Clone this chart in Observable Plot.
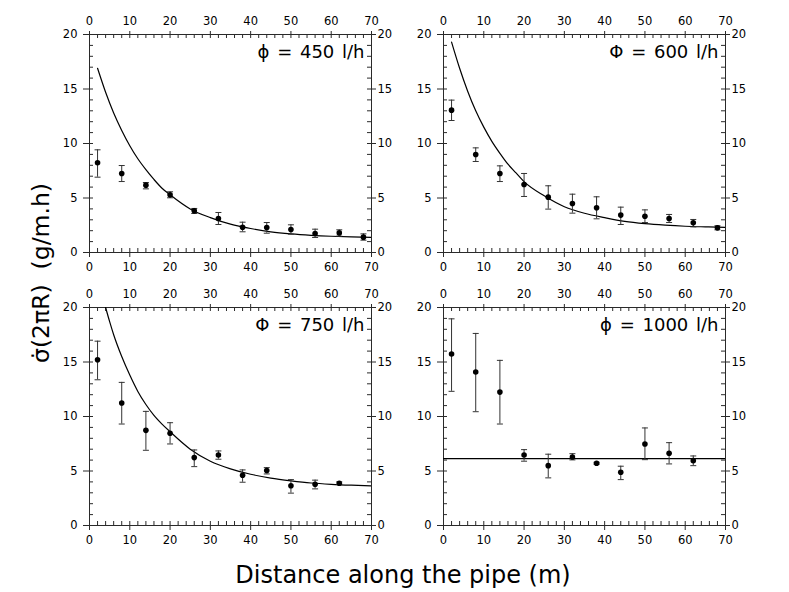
<!DOCTYPE html>
<html><head><meta charset="utf-8">
<script src="https://cdn.jsdelivr.net/npm/d3@7"></script>
<script src="https://cdn.jsdelivr.net/npm/@observablehq/plot@0.6"></script>
<style>
body{margin:0;background:#fff;overflow:hidden}
#root{position:relative;width:789px;height:592px;font-family:"DejaVu Sans",sans-serif;color:#000}
.xlabel{position:absolute;left:153px;width:500px;top:563px;text-align:center;font-size:24px;line-height:24px;white-space:pre}
.ylabel{position:absolute;left:42px;top:273px;transform:translate(-50%,-50%) rotate(-90deg);font-size:23.5px;line-height:23.5px;white-space:pre}
</style></head><body><div id="root"></div><script>
// ---- data ----
const distance = [2, 8, 14, 20, 26, 32, 38, 44, 50, 56, 62, 68];

const sigma450 = [8.23, 7.25, 6.18, 5.29, 3.82, 3.12, 2.32, 2.29, 2.11, 1.74, 1.80, 1.41];
const lo450    = [6.91, 6.51, 5.84, 5.02, 3.58, 2.57, 1.90, 1.77, 1.68, 1.38, 1.50, 1.13];
const hi450    = [9.42, 7.98, 6.42, 5.57, 4.04, 3.67, 2.78, 2.75, 2.54, 2.14, 2.08, 1.71];

const sigma600 = [13.06, 8.99, 7.25, 6.24, 5.08, 4.50, 4.10, 3.43, 3.33, 3.12, 2.72, 2.26];
const lo600    = [12.11, 8.35, 6.51, 5.14, 3.98, 3.61, 3.09, 2.57, 2.75, 2.75, 2.35, 2.08];
const hi600    = [13.98, 9.60, 7.95, 7.25, 6.12, 5.35, 5.11, 4.16, 3.91, 3.49, 3.03, 2.45];

const sigma750 = [15.20, 11.24, 8.73, 8.46, 6.23, 6.47, 4.61, 5.04, 3.64, 3.79, 3.88];
const lo750    = [13.37, 9.31, 6.90, 7.48, 5.40, 6.08, 3.97, 4.73, 2.97, 3.36, 3.76];
const hi750    = [16.91, 13.13, 10.47, 9.43, 6.93, 6.84, 5.10, 5.31, 4.21, 4.16, 4.00];

const sigma1000 = [15.73, 14.08, 12.24, 6.47, 5.49, 6.29, 5.71, 4.89, 7.48, 6.63, 5.95];
const lo1000    = [12.31, 10.44, 9.31, 5.90, 4.37, 6.02, 5.62, 4.21, 6.04, 5.65, 5.49];
const hi1000    = [18.96, 17.62, 15.15, 6.96, 6.54, 6.59, 5.80, 5.44, 8.95, 7.60, 6.38];

// fitted curves
const curve450X = [2, 4, 6, 8, 10, 12, 14, 16, 18, 20, 25, 30, 35, 40, 45, 50, 55, 60, 65, 70];
const curve450Y = [16.9, 14.7, 12.8, 11.2, 9.8, 8.6, 7.6, 6.7, 5.9, 5.3, 4.0, 3.2, 2.6, 2.2, 1.9, 1.71, 1.58, 1.49, 1.43, 1.39];
const curve600X = [2, 4, 6, 8, 10, 12, 14, 16, 18, 20, 25, 30, 35, 40, 45, 50, 55, 60, 65, 70];
const curve600Y = [19.3, 16.9, 14.8, 13.0, 11.5, 10.2, 9.1, 8.1, 7.3, 6.5, 5.2, 4.2, 3.6, 3.2, 2.86, 2.65, 2.51, 2.41, 2.35, 2.30];
const curve750X = [4, 5, 6, 8, 10, 12, 14, 16, 18, 20, 25, 30, 35, 40, 45, 50, 55, 60, 65, 70];
const curve750Y = [20, 18.7, 17.5, 15.5, 13.8, 12.3, 11.1, 10.1, 9.3, 8.6, 7.0, 5.9, 5.2, 4.7, 4.35, 4.1, 3.9, 3.78, 3.70, 3.64];
const curve1000X = [0, 70];
const curve1000Y = [6.14, 6.14];

const panelLabels = ["\u03D5 = 450 l/h", "\u03A6 = 600 l/h", "\u03A6 = 750 l/h", "\u03D5 = 1000 l/h"];
const xMajor = [0, 10, 20, 30, 40, 50, 60, 70];
const xMinor = d3.range(0, 71, 2);
const yMajor = [0, 5, 10, 15, 20];
const yMinor = d3.range(0, 21, 1);
const xTitle = "Distance along the pipe (m)";
const yTitle = "\u03C3\u0307(2\u03C0R)  (g/m.h)";

// ---- build ----
const root = document.getElementById("root");
const W = 342, H = 273, mL = 30, mR = 30, mT = 30, mB = 25;
const innerW = W - mL - mR, innerH = H - mT - mB;

const capSymbol = {draw(ctx, size) { const w = Math.sqrt(size / Math.PI); ctx.moveTo(-w, 0); ctx.lineTo(w, 0); }};

const panels = [
  {label: panelLabels[0], ys: sigma450, lo: lo450, hi: hi450, cx: curve450X, cy: curve450Y, left: 59, top: 4},
  {label: panelLabels[1], ys: sigma600, lo: lo600, hi: hi600, cx: curve600X, cy: curve600Y, left: 413, top: 4},
  {label: panelLabels[2], ys: sigma750, lo: lo750, hi: hi750, cx: curve750X, cy: curve750Y, left: 59, top: 277},
  {label: panelLabels[3], ys: sigma1000, lo: lo1000, hi: hi1000, cx: curve1000X, cy: curve1000Y, left: 413, top: 277}
];

const ink = "#2a2a2a";
for (const p of panels) {
  const rows = p.ys.map((v, i) => ({x: distance[i], y: v, lo: p.lo[i], hi: p.hi[i]}));
  const curve = p.cx.map((x, i) => ({x, y: p.cy[i]}));
  const svg = Plot.plot({
    width: W, height: H,
    marginLeft: mL, marginRight: mR, marginTop: mT, marginBottom: mB,
    x: {domain: [0, 70]},
    y: {domain: [0, 20]},
    style: {fontFamily: "DejaVu Sans", fontSize: "11.5px", wordSpacing: "2px", background: "transparent", overflow: "visible", color: "#000"},
    marks: [
      Plot.frame({stroke: ink}),
      Plot.axisX({anchor: "bottom", ticks: xMajor, tickSize: 5, tickPadding: 5, label: null, stroke: ink, tickFormat: d => d}),
      Plot.axisX({anchor: "top", ticks: xMajor, tickSize: 4, tickPadding: 6, label: null, stroke: ink, tickFormat: d => d}),
      Plot.axisY({anchor: "left", ticks: yMajor, tickSize: 6, tickPadding: 6, label: null, stroke: ink, tickFormat: d => d}),
      Plot.axisY({anchor: "right", ticks: yMajor, tickSize: 4, tickPadding: 2, label: null, stroke: ink, tickFormat: d => d}),
      Plot.tickX(xMinor, {x: d => d, insetTop: innerH - 4, stroke: ink}),
      Plot.tickX(xMinor, {x: d => d, insetBottom: innerH - 4, stroke: ink}),
      Plot.tickY(yMinor, {y: d => d, insetRight: innerW - 4, stroke: ink}),
      Plot.tickY(yMinor, {y: d => d, insetLeft: innerW - 4, stroke: ink}),
      Plot.line(curve, {x: "x", y: "y", curve: "monotone-x", stroke: "#000", strokeWidth: 1.2, clip: true}),
      Plot.ruleX(rows, {x: "x", y1: "lo", y2: "hi", stroke: "#333", strokeWidth: 1}),
      Plot.dot(rows, {x: "x", y: "lo", symbol: capSymbol, r: 3, stroke: "#333", fill: "none", strokeWidth: 1}),
      Plot.dot(rows, {x: "x", y: "hi", symbol: capSymbol, r: 3, stroke: "#333", fill: "none", strokeWidth: 1}),
      Plot.dot(rows, {x: "x", y: "y", r: 2.8, fill: "#000"}),
      Plot.text([p.label], {text: d => d, frameAnchor: "top-right", textAnchor: "end", lineAnchor: "top", dx: -7, dy: 11, fontSize: 18, fill: "#000"})
    ]
  });
  svg.style.position = "absolute";
  svg.style.left = p.left + "px";
  svg.style.top = p.top + "px";
  root.appendChild(svg);
}

const xl = document.createElement("div");
xl.className = "xlabel"; xl.textContent = xTitle; root.appendChild(xl);
const yl = document.createElement("div");
yl.className = "ylabel"; yl.textContent = yTitle; root.appendChild(yl);
</script></body></html>
